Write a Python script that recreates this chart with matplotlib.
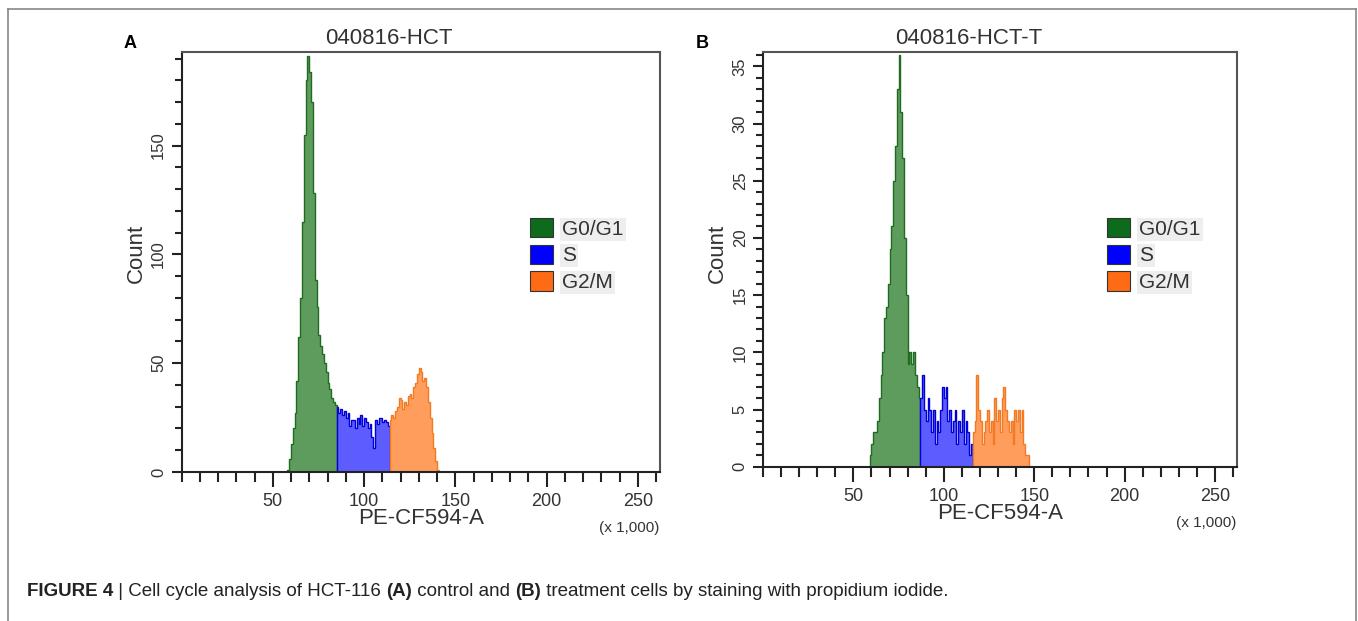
import numpy as np
import matplotlib
matplotlib.use("Agg")
import matplotlib.pyplot as plt
from matplotlib.patches import Patch
from matplotlib.ticker import FixedLocator, MultipleLocator

plt.rcParams['font.family'] = ['Liberation Sans', 'DejaVu Sans']

# PE-CF594-A channel (x 1,000), one bin = 1 unit
bin_width = 1.0

# panel A: 040816-HCT (control)
a_g1_start = 58
a_g1 = [1, 6, 13, 20, 27, 42, 62, 80, 115, 155, 180, 191, 184, 170, 128, 88,
        76, 63, 58, 54, 50, 46, 41, 38, 34, 32, 31]
a_s_start = 85
a_s = [30, 27, 29, 26, 28, 25, 27, 21, 24, 24, 20, 25, 22, 26, 21, 25, 23, 20,
       22, 16, 11, 24, 22, 25, 25, 23, 24, 23, 21]
a_g2_start = 114
a_g2 = [24, 26, 25, 28, 30, 34, 33, 29, 32, 31, 35, 36, 34, 39, 41, 45, 48, 46,
        42, 43, 39, 32, 25, 18, 11, 5, 1]

# panel B: 040816-HCT-T (treatment)
b_g1_start = 59
b_g1 = [1, 2, 3, 3, 4, 6, 8, 10, 13, 14, 16, 19, 21, 25, 28, 33, 36, 31, 27,
        20, 15, 9, 10, 9, 10, 8, 7, 6]
b_s_start = 87
b_s = [6, 8, 5, 4, 6, 5, 3, 5, 2, 4, 3, 5, 7, 6, 7, 4, 5, 3, 4, 5, 2, 4, 3, 5,
       2, 4, 3, 1, 2]
b_g2_start = 116
b_g2 = [3, 4, 8, 5, 4, 2, 3, 4, 5, 3, 4, 2, 6, 4, 5, 3, 6, 7, 5, 4, 3, 4, 2, 5,
        4, 5, 3, 5, 2, 1, 1]

phases = ['G0/G1', 'S', 'G2/M']
legend_colors = ['#0d6b1c', '#0000ff', '#ff6a14']
fill_colors = ['#5e9c5e', '#5c5cff', '#ff9d5c']
line_colors = ['#1f6b22', '#0000d8', '#f27a22']

W, H = 1358, 621
fig = plt.figure(figsize=(W / 100, H / 100), dpi=100)

def fx(px):
    return px / W

def fy(px):
    return 1 - px / H

panels = [
    dict(rect=[181.5, 52, 660, 472], title='040816-HCT', title_x=389, letter='A',
         letter_x=130, ymax=193, ymajor=50, yminor=10,
         data=[(a_g1_start, a_g1), (a_s_start, a_s), (a_g2_start, a_g2)]),
    dict(rect=[763, 52, 1237, 466.7], title='040816-HCT-T', title_x=969, letter='B',
         letter_x=702, ymax=36.25, ymajor=5, yminor=1,
         data=[(b_g1_start, b_g1), (b_s_start, b_s), (b_g2_start, b_g2)]),
]

tc = '#333333'
for p in panels:
    x0, y0, x1, y1 = p['rect']
    ax = fig.add_axes([fx(x0), fy(y1), fx(x1 - x0), (y1 - y0) / H])
    for (start, counts), fc, lc in zip(p['data'], fill_colors, line_colors):
        edges = start + np.arange(len(counts) + 1) * bin_width
        ax.stairs(counts, edges, fill=True, facecolor=fc, edgecolor='none')
        ax.stairs(counts, edges, color=lc, lw=1.0)
    ax.set_xlim(0, 262.144)
    ax.set_ylim(0, p['ymax'])
    ax.xaxis.set_major_locator(FixedLocator([50, 100, 150, 200, 250]))
    ax.xaxis.set_minor_locator(MultipleLocator(10))
    ax.yaxis.set_major_locator(MultipleLocator(p['ymajor']))
    ax.yaxis.set_minor_locator(MultipleLocator(p['yminor']))
    ax.tick_params(axis='x', which='major', length=11, width=1.5, color='#222222',
                   labelsize=13, labelcolor=tc, pad=4)
    ax.tick_params(axis='x', which='minor', length=7, width=1.5, color='#222222')
    ax.tick_params(axis='y', which='major', length=7, width=1.5, color='#222222',
                   labelsize=12, labelcolor=tc, pad=4, labelrotation=90)
    ax.tick_params(axis='y', which='minor', length=5, width=1.5, color='#222222')
    for lab in ax.get_yticklabels():
        lab.set_verticalalignment('center')
    for side in ['left', 'bottom']:
        ax.spines[side].set_color('#222222')
        ax.spines[side].set_linewidth(1.5)
    for side in ['top', 'right']:
        ax.spines[side].set_color('#555555')
        ax.spines[side].set_linewidth(1.5)

    fig.text(fx(p['title_x']), fy(38), p['title'], ha='center', va='center',
             fontsize=16, color=tc)
    fig.text(fx(p['letter_x']), fy(44), p['letter'], ha='center', va='center',
             fontsize=13, fontweight='bold', color='black')
    fig.text(fx(x0 - 45.5), fy(253), 'Count', rotation=90, ha='center',
             va='center', fontsize=16, color=tc)
    fig.text(fx((x0 + x1) / 2), fy(y1 + 47), 'PE-CF594-A', ha='center',
             va='center', fontsize=16, color=tc)
    fig.text(fx(x1 - 1), fy(y1 + 56), '(x 1,000)', ha='right', va='center',
             fontsize=11, color=tc)

    handles = [Patch(facecolor=c, edgecolor='#333333', lw=0.8) for c in legend_colors]
    leg = ax.legend(handles, phases, loc='upper left',
                    bbox_to_anchor=(fx(x1 - 130), fy(218)),
                    bbox_transform=fig.transFigure, frameon=False, fontsize=15,
                    handlelength=1.1, handleheight=1.05, handletextpad=0.45,
                    labelspacing=0.28, borderpad=0, borderaxespad=0)
    for t in leg.get_texts():
        t.set_color(tc)
        t.set_bbox(dict(facecolor='#eeeeee', edgecolor='none', pad=1.5))

# outer frame
frame = dict(color='#888888', lw=1.2, transform=fig.transFigure)
fig.add_artist(plt.Line2D([fx(8), fx(1356)], [fy(9), fy(9)], **frame))
fig.add_artist(plt.Line2D([fx(8), fx(8)], [fy(9), 0], **frame))
fig.add_artist(plt.Line2D([fx(1356), fx(1356)], [fy(9), 0], **frame))

# caption with bold parts
caption = [('FIGURE 4', 'bold'), (' | Cell cycle analysis of HCT-116 ', 'normal'),
           ('(A)', 'bold'), (' control and ', 'normal'), ('(B)', 'bold'),
           (' treatment cells by staining with propidium iodide.', 'normal')]
renderer = fig.canvas.get_renderer()
xpos = 27
for txt, weight in caption:
    t = fig.text(fx(xpos), fy(591), txt, ha='left', va='center', fontsize=13.5,
                 fontweight=weight, color='#222222')
    bb = t.get_window_extent(renderer)
    xpos += bb.width

fig.savefig('out.png', dpi=100)
